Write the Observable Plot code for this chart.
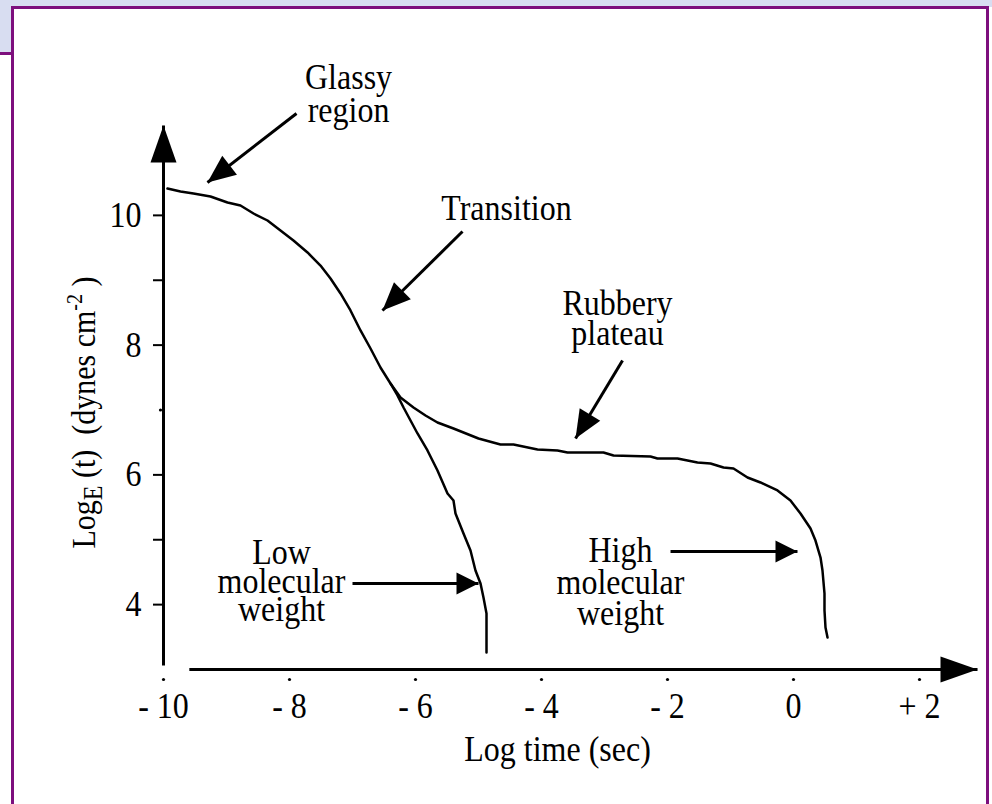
<!DOCTYPE html>
<html>
<head>
<meta charset="utf-8">
<script src="https://cdn.jsdelivr.net/npm/d3@7"></script>
<script src="https://cdn.jsdelivr.net/npm/@observablehq/plot@0.6"></script>
<style>
  body { margin: 0; background: #fff; }
  #wrap { position: relative; width: 992px; height: 804px; overflow: hidden; background: #fff; }
  .deco { position: absolute; }
  #chart { position: absolute; left: 0; top: 0; }
</style>
</head>
<body>
<div id="wrap">
  <div class="deco" style="left:0;top:0;width:992px;height:7px;background:#d8ddf1"></div>
  <div class="deco" style="left:0;top:0;width:12px;height:54px;background:#d8ddf1"></div>
  <div class="deco" style="left:0;top:52px;width:12px;height:3px;background:#7d0f7d"></div>
  <div class="deco" style="left:11px;top:6px;width:978px;height:830px;border:3px solid #7d0f7d;box-sizing:border-box"></div>
  <div id="chart"></div>
</div>
<script>
// ---- data: high molecular weight curve (log time, log E) ----
const highX = [-9.937,-9.730,-9.524,-9.254,-8.984,-8.778,-8.571,-8.349,-8.143,-7.937,-7.714,-7.508,-7.349,-7.190,-7.032,-6.873,-6.714,-6.556,-6.397,-6.238,-6.032,-5.841,-5.651,-5.397,-5.000,-4.651,-4.444,-4.063,-3.746,-3.587,-3.016,-2.857,-2.270,-2.159,-1.841,-1.524,-1.317,-1.111,-0.952,-0.730,-0.524,-0.254,-0.048,0.111,0.270,0.349,0.429,0.460,0.492,0.492,0.508,0.540];
const highY = [10.414,10.368,10.337,10.291,10.199,10.152,10.029,9.921,9.767,9.613,9.428,9.227,9.027,8.796,8.534,8.226,7.948,7.655,7.409,7.193,7.039,6.915,6.807,6.715,6.561,6.468,6.468,6.391,6.376,6.345,6.345,6.299,6.283,6.252,6.252,6.191,6.175,6.114,6.098,5.960,5.883,5.760,5.605,5.404,5.173,4.988,4.726,4.526,4.171,3.909,3.647,3.493];
// ---- data: low molecular weight curve ----
const lowX = [-6.397,-6.286,-6.190,-6.079,-5.968,-5.810,-5.651,-5.492,-5.397,-5.365,-5.238,-5.127,-5.048,-4.968,-4.921,-4.873,-4.873];
const lowY = [7.409,7.224,7.039,6.838,6.638,6.376,6.067,5.713,5.605,5.404,5.096,4.834,4.526,4.326,4.110,3.863,3.262];

// ---- ticks ----
const xTicks = [-10, -8, -6, -4, -2, 0, 2];
const xTickLabels = ["- 10", "- 8", "- 6", "- 4", "- 2", "0", "+ 2"];
const yTicks = [10, 9, 8, 6, 5, 4];
const yTickLabels = ["10", "", "8", "6", "", "4"];
const yDotTicks = [7];

// ---- annotations ----
const noteText = ["Glassy\nregion", "Transition", "Rubbery\nplateau", "Low\nmolecular\nweight", "High\nmolecular\nweight"];
const noteX = [-7.063, -4.556, -2.794, -8.127, -2.746];
const noteY = [11.863, 10.106, 8.380, 4.326, 4.326];
const noteLineHeight = [0.93, 1, 0.85, 0.8, 0.88];
const arrowFromX = [-7.889, -5.254, -2.714, -7.0, -1.952];
const arrowFromY = [11.570, 9.751, 7.763, 4.326, 4.819];
const arrowToX = [-9.302, -6.524, -3.460, -5.0, 0.063];
const arrowToY = [10.507, 8.534, 6.561, 4.326, 4.819];
const arrowKind = ["big", "big", "big", "small", "small"];

// axis arrows
const axisFromX = [-10, -9.59];
const axisFromY = [3.06, 3];
const axisToX = [-10, 2.921];
const axisToY = [11.385, 3];

const yTitleParts = ["Log", "E", " (t)  (dynes cm", "-2", " )"];
const xTitle = "Log time (sec)";

// ---- layout ----
const W = 992, H = 804, mL = 163, mR = 73, mT = 150, mB = 135;
const xDomain = [-10, 2], yDomain = [3, 11];
const sx = Plot.scale({x: {domain: xDomain, range: [mL, W - mR]}});
const sy = Plot.scale({y: {domain: yDomain, range: [H - mB, mT]}});
function angleOf(x1, y1, x2, y2) {
  const dx = sx.apply(x2) - sx.apply(x1);
  const dy = sy.apply(y2) - sy.apply(y1);
  return Math.atan2(dx, -dy) * 180 / Math.PI;
}
function head(len, half) {
  return {draw(ctx) { ctx.moveTo(0, 0); ctx.lineTo(half, len); ctx.lineTo(-half, len); ctx.closePath(); }};
}
const headAxis = head(37, 13), headBig = head(28, 12), headSmall = head(22, 11);

const high = highX.map((x, i) => ({x, y: highY[i]}));
const low = lowX.map((x, i) => ({x, y: lowY[i]}));
const arrows = arrowFromX.map((_, i) => ({
  x1: arrowFromX[i], y1: arrowFromY[i], x2: arrowToX[i], y2: arrowToY[i], kind: arrowKind[i],
  angle: angleOf(arrowFromX[i], arrowFromY[i], arrowToX[i], arrowToY[i])
}));
const axes = axisFromX.map((_, i) => ({
  x1: axisFromX[i], y1: axisFromY[i], x2: axisToX[i], y2: axisToY[i],
  angle: angleOf(axisFromX[i], axisFromY[i], axisToX[i], axisToY[i])
}));
const yLab = new Map(yTicks.map((t, i) => [t, yTickLabels[i]]));
const xLab = new Map(xTicks.map((t, i) => [t, xTickLabels[i]]));

const noteMarks = noteText.map((t, i) => Plot.text([t], {
  x: () => noteX[i], y: () => noteY[i], text: d => d, lineHeight: noteLineHeight[i], fill: "black"
}));

const plot = Plot.plot({
  width: W, height: H,
  marginLeft: mL, marginRight: mR, marginTop: mT, marginBottom: mB,
  x: {domain: xDomain},
  y: {domain: yDomain},
  style: {fontFamily: '"Liberation Serif", "Times New Roman", serif', fontSize: "32px", background: "transparent", overflow: "visible", color: "black"},
  marks: [
    // axis lines and arrowheads
    Plot.link(axes, {x1: "x1", y1: "y1", x2: "x2", y2: "y2", stroke: "black", strokeWidth: 3}),
    Plot.dot(axes, {x: "x2", y: "y2", rotate: "angle", symbol: headAxis, fill: "black", stroke: "none"}),
    Plot.axisY(yTicks, {tickSize: 10, tickPadding: 12, strokeWidth: 2, tickFormat: d => yLab.get(d), label: null}),
    Plot.dot(yDotTicks, {y: d => d, frameAnchor: "left", dx: -3, r: 1.6, fill: "black", stroke: "none"}),
    Plot.axisX(xTicks, {tickSize: 0, tickPadding: 23, tickFormat: d => xLab.get(d), label: null}),
    Plot.dot(xTicks, {x: d => d, frameAnchor: "bottom", dy: 10, r: 1.6, fill: "black", stroke: "none"}),
    Plot.text([xTitle], {frameAnchor: "bottom", x: () => -3.746, dy: 91, text: d => d, fill: "black"}),
    Plot.text(["y"], {x: () => -11.27, y: () => 6.961, rotate: -90, text: d => d, className: "ytitle", fill: "black"}),
    // curves
    Plot.line(high, {x: "x", y: "y", stroke: "black", strokeWidth: 2.5}),
    Plot.line(low, {x: "x", y: "y", stroke: "black", strokeWidth: 2.5}),
    // annotation arrows
    Plot.link(arrows, {x1: "x1", y1: "y1", x2: "x2", y2: "y2", stroke: "black", strokeWidth: 3}),
    Plot.dot(arrows.filter(a => a.kind === "big"), {x: "x2", y: "y2", rotate: "angle", symbol: headBig, fill: "black", stroke: "none"}),
    Plot.dot(arrows.filter(a => a.kind === "small"), {x: "x2", y: "y2", rotate: "angle", symbol: headSmall, fill: "black", stroke: "none"}),
    ...noteMarks
  ]
});

// rich y-axis title with subscript / superscript
const yt = plot.querySelector("g.ytitle text");
if (yt) {
  yt.textContent = "";
  yt.setAttribute("style", "white-space:pre");
  const spec = [[0, 30], [6, 24], [-6, 30], [-12, 20], [12, 30]];
  d3.select(yt).selectAll("tspan").data(yTitleParts).join("tspan")
    .attr("dy", (d, i) => spec[i][0])
    .attr("font-size", (d, i) => spec[i][1])
    .text(d => d);
}
// the reference lettering is slightly taller than wide: stretch glyphs vertically about their anchor
const stretch = " scale(1,1.12)";
plot.querySelectorAll("text").forEach(t => {
  const tr = t.getAttribute("transform");
  if (tr) t.setAttribute("transform", tr + stretch);
  else {
    const x = +t.getAttribute("x") || 0, y = +t.getAttribute("y") || 0;
    t.setAttribute("transform", `translate(${x},${y})${stretch} translate(${-x},${-y})`);
  }
});
document.getElementById("chart").appendChild(plot);
</script>
</body>
</html>
